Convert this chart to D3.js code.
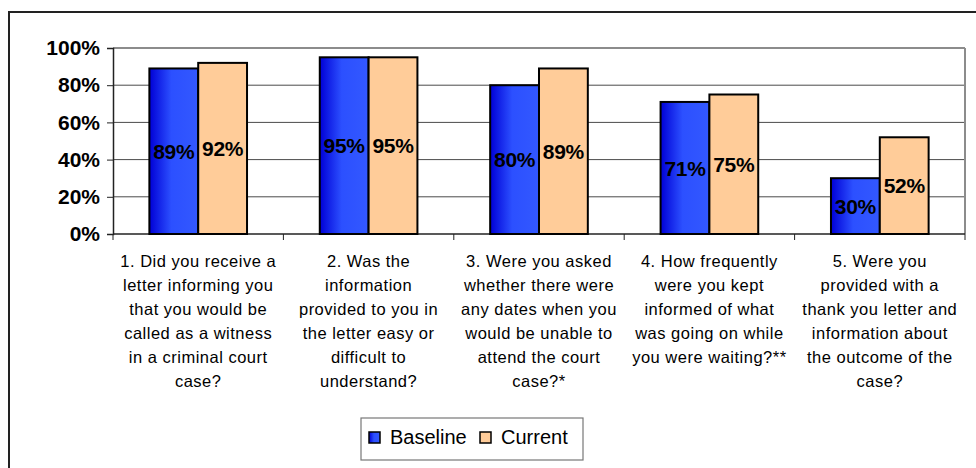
<!DOCTYPE html>
<html>
<head>
<meta charset="utf-8">
<script src="https://cdn.jsdelivr.net/npm/d3@7"></script>
<style>
  body { margin: 0; background: #fff; }
  svg { display: block; font-family: "Liberation Sans", Arial, sans-serif; }
</style>
</head>
<body>
<div id="chart"></div>
<script>
const categories = ["Q1", "Q2", "Q3", "Q4", "Q5"];
const categoryLines = [
  ["1. Did you receive a", "letter informing you", "that you would be", "called as a witness", "in a criminal court", "case?"],
  ["2. Was the", "information", "provided to you in", "the letter easy or", "difficult to", "understand?"],
  ["3. Were you asked", "whether there were", "any dates when you", "would be unable to", "attend the court", "case?*"],
  ["4. How frequently", "were you kept", "informed of what", "was going on while", "you were waiting?**"],
  ["5. Were you", "provided with a", "thank you letter and", "information about", "the outcome of the", "case?"]
];
const seriesNames = ["Baseline", "Current"];
const baseline = [89, 95, 80, 71, 30];
const current = [92, 95, 89, 75, 52];
const yTicks = [0, 20, 40, 60, 80, 100];

const width = 976, height = 468;
const plot = { left: 113, right: 965, top: 48, bottom: 234 };

const svg = d3.select("#chart").append("svg")
  .attr("width", width)
  .attr("height", height);

// gradient for the blue bars
const defs = svg.append("defs");
const grad = defs.append("linearGradient").attr("id", "blueGrad")
  .attr("x1", "0%").attr("x2", "100%").attr("y1", "0%").attr("y2", "0%");
grad.append("stop").attr("offset", "0%").attr("stop-color", "#0000d6");
grad.append("stop").attr("offset", "45%").attr("stop-color", "#2c50ff");
grad.append("stop").attr("offset", "100%").attr("stop-color", "#3358ff");

const fills = ["url(#blueGrad)", "#ffcc99"];

// outer chart border
svg.append("rect")
  .attr("x", 9).attr("y", 12)
  .attr("width", 1000).attr("height", 500)
  .attr("fill", "none").attr("stroke", "#222").attr("stroke-width", 2);

const x = d3.scaleBand().domain(categories).range([plot.left, plot.right]);
const x1 = d3.scaleBand().domain(seriesNames).range([0, x.bandwidth()])
  .paddingOuter(0.745);
const y = d3.scaleLinear().domain([0, 100]).range([plot.bottom, plot.top]);

// gridlines
svg.append("g").selectAll("line").data(yTicks.filter(d => d > 0)).join("line")
  .attr("x1", plot.left).attr("x2", plot.right)
  .attr("y1", d => y(d)).attr("y2", d => y(d))
  .attr("stroke", d => d === 100 ? "#8c8c8c" : "#4a4a4a")
  .attr("stroke-width", d => d === 100 ? 2 : 1);

// plot area right border
svg.append("line")
  .attr("x1", plot.right).attr("x2", plot.right)
  .attr("y1", plot.top).attr("y2", plot.bottom)
  .attr("stroke", "#8c8c8c").attr("stroke-width", 2);

// y axis
const yAxis = svg.append("g")
  .attr("transform", `translate(${plot.left},0)`)
  .call(d3.axisLeft(y).tickValues(yTicks).tickSize(6).tickPadding(7).tickFormat(d => d + "%"));
yAxis.select(".domain").attr("stroke", "#222").attr("stroke-width", 1.5);
yAxis.selectAll(".tick line").attr("stroke", "#222");
yAxis.selectAll(".tick text")
  .attr("font-family", "Liberation Sans, Arial, sans-serif")
  .attr("font-size", 21).attr("font-weight", "bold").attr("fill", "#000");

// x axis baseline and boundary ticks
svg.append("line")
  .attr("x1", plot.left).attr("x2", plot.right)
  .attr("y1", plot.bottom).attr("y2", plot.bottom)
  .attr("stroke", "#222").attr("stroke-width", 1.5);
const boundaries = categories.map(c => x(c)).concat([x(categories[categories.length - 1]) + x.bandwidth()]);
svg.append("g").selectAll("line").data(boundaries).join("line")
  .attr("x1", d => d).attr("x2", d => d)
  .attr("y1", plot.bottom).attr("y2", plot.bottom + 6)
  .attr("stroke", "#222");

// bars
const rows = categories.map((c, i) => ({ cat: c, values: [baseline[i], current[i]] }));
const groups = svg.append("g").selectAll("g").data(rows).join("g")
  .attr("transform", d => `translate(${x(d.cat)},0)`);

groups.selectAll("rect")
  .data(d => d.values.map((v, k) => ({ name: seriesNames[k], v, k })))
  .join("rect")
  .attr("x", d => x1(d.name))
  .attr("y", d => y(d.v))
  .attr("width", x1.bandwidth())
  .attr("height", d => y(0) - y(d.v))
  .attr("fill", d => fills[d.k])
  .attr("stroke", "#000").attr("stroke-width", 2);

groups.selectAll("text")
  .data(d => d.values.map((v, k) => ({ name: seriesNames[k], v, k })))
  .join("text")
  .attr("x", d => x1(d.name) + x1.bandwidth() / 2)
  .attr("y", d => (y(d.v) + y(0)) / 2)
  .attr("dy", "0.36em")
  .attr("text-anchor", "middle")
  .attr("font-size", 21).attr("font-weight", "bold").attr("fill", "#000")
  .attr("letter-spacing", -0.3)
  .text(d => d.v + "%");

// category labels
const labels = svg.append("g").selectAll("text").data(categories).join("text")
  .attr("text-anchor", "middle")
  .attr("font-size", 16.5).attr("letter-spacing", 0.5).attr("fill", "#000");
labels.each(function (c, i) {
  d3.select(this).selectAll("tspan").data(categoryLines[i]).join("tspan")
    .attr("x", x(c) + x.bandwidth() / 2)
    .attr("y", (d, j) => 266.5 + j * 24)
    .text(d => d);
});

// legend
const legend = svg.append("g");
legend.append("rect")
  .attr("x", 361).attr("y", 418).attr("width", 222).attr("height", 42)
  .attr("fill", "#fff").attr("stroke", "#777").attr("stroke-width", 1.2);
const legendX = [369, 480];
seriesNames.forEach((name, k) => {
  legend.append("rect")
    .attr("x", legendX[k]).attr("y", 432).attr("width", 11).attr("height", 11)
    .attr("fill", fills[k]).attr("stroke", "#000").attr("stroke-width", 1.5);
  legend.append("text")
    .attr("x", legendX[k] + 21).attr("y", 444)
    .attr("font-size", 20).attr("fill", "#000")
    .text(name);
});
</script>
</body>
</html>
